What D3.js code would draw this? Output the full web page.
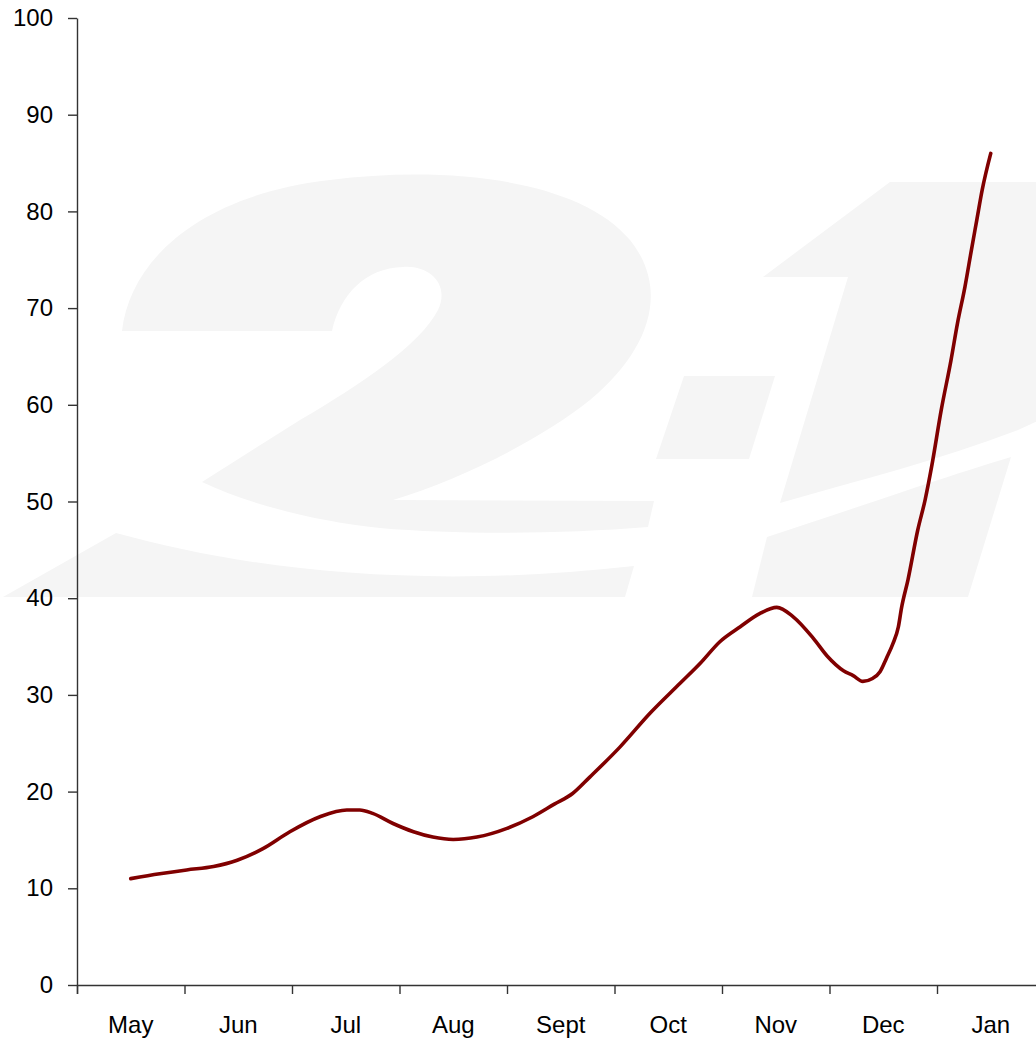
<!DOCTYPE html>
<html>
<head>
<meta charset="utf-8">
<script src="https://cdn.jsdelivr.net/npm/d3@7"></script>
<style>
  body { margin: 0; background: #fff; }
  svg { display: block; font-family: "Liberation Sans", Arial, sans-serif; }
</style>
</head>
<body>
<div id="chart"></div>
<script>
  // month labels along the bottom
  const months = ['May', 'Jun', 'Jul', 'Aug', 'Sept', 'Oct', 'Nov', 'Dec', 'Jan'];
  // position of each reading, in months since the start of May
  const monthPos = [0.5, 0.77, 1.02, 1.27, 1.49, 1.73, 1.98, 2.26, 2.51, 2.63, 2.75, 2.94, 3.13, 3.31, 3.5,
    3.72, 4.0, 4.24, 4.44, 4.61, 4.77, 5.05, 5.33, 5.61, 5.8, 5.98, 6.17, 6.35, 6.51, 6.66, 6.85, 6.98,
    7.13, 7.22, 7.31, 7.4, 7.47, 7.53, 7.59, 7.64, 7.67, 7.73, 7.82, 7.89, 7.95, 8.04, 8.13, 8.19, 8.26,
    8.32, 8.37, 8.42, 8.5];
  const values = [11.0, 11.5, 11.9, 12.25, 12.9, 14.1, 15.85, 17.4, 18.1, 18.1, 17.75, 16.7, 15.85, 15.3, 15.05,
    15.3, 16.2, 17.4, 18.7, 19.8, 21.5, 24.6, 28.1, 31.2, 33.3, 35.5, 37.05, 38.4, 39.05, 38.1, 35.85, 34.0,
    32.5, 32.0, 31.4, 31.7, 32.4, 33.8, 35.3, 37.0, 39.0, 41.9, 47.0, 50.2, 53.6, 59.5, 64.6, 68.4, 72.2,
    76.0, 79.1, 82.2, 86.0];
  const yTicks = [0, 10, 20, 30, 40, 50, 60, 70, 80, 90, 100];

  const width = 1036;
  const height = 1040;
  const marginLeft = 77;
  const plotTop = 18;
  const plotBottom = 985;
  const step = 107.5;

  const svg = d3.select('#chart')
                .append('svg')
                .attr('width', width)
                .attr('height', height);

  svg.append('rect')
     .attr('width', width)
     .attr('height', height)
     .attr('fill', '#fff');

  // faint "2:1" logo behind the plot
  const logo = svg.append('g').attr('fill', '#f5f5f5');
  logo.append('path')
      .attr('d', 'M122,331 C130,260 200,195 330,180 C450,165 580,180 630,240 C670,290 650,350 590,400 ' +
                 'C540,440 460,480 393,500 L654,501 L648,527 C560,534 460,535 380,528 C320,522 250,505 202,482 ' +
                 'L300,420 C360,385 420,345 438,310 C450,285 430,265 403,267 C365,268 340,295 332,331 Z');
  logo.append('path')
      .attr('d', 'M3,597 L116,533 C250,570 420,590 634,566 L625,597 Z');
  logo.append('path')
      .attr('d', 'M752,597 L767,537 C850,510 950,475 1011,457 L968,597 Z');
  logo.append('path')
      .attr('d', 'M684,376 L775,376 L749,459 L656,459 Z');
  logo.append('path')
      .attr('d', 'M890,182 L1040,182 L1040,420 L1018,430 C940,460 860,480 780,503 L848,277 L763,277 Z');

  const xScale = d3.scaleLinear()
                   .domain([0, months.length])
                   .range([marginLeft, marginLeft + step * months.length]);

  const xBand = d3.scaleBand()
                  .domain(months)
                  .range([marginLeft, marginLeft + step * months.length]);

  const yScale = d3.scaleLinear()
                   .domain([0, 100])
                   .range([plotBottom, plotTop]);

  svg.append('g')
     .attr('transform', 'translate(0, ' + plotBottom + ')')
     .call(d3.axisBottom(xScale)
             .tickValues(d3.range(0, months.length + 1))
             .tickFormat('')
             .tickSizeOuter(0)
             .tickSize(9));

  const xLabels = svg.append('g')
                     .attr('transform', 'translate(0, ' + plotBottom + ')')
                     .call(d3.axisBottom(xBand).tickSize(0).tickPadding(0));
  xLabels.select('.domain').remove();
  xLabels.selectAll('text')
         .attr('y', 48)
         .attr('dy', 0)
         .style('font-size', '24px')
         .attr('fill', '#000');

  const yAxis = svg.append('g')
                   .attr('transform', 'translate(' + marginLeft + ', 0)')
                   .call(d3.axisLeft(yScale)
                           .tickValues(yTicks)
                           .tickSize(9)
                           .tickSizeOuter(0)
                           .tickPadding(15));
  yAxis.selectAll('text')
       .style('font-size', '24px')
       .attr('fill', '#000');

  svg.selectAll('.domain, .tick line')
     .attr('stroke', '#333')
     .attr('stroke-width', 1.4);
  svg.selectAll('.tick text').style('font-family', '"Liberation Sans", Arial, sans-serif');

  const points = monthPos.map((m, i) => [m, values[i]]);

  const line = d3.line()
                 .x((d) => xScale(d[0]))
                 .y((d) => yScale(d[1]))
                 .curve(d3.curveMonotoneX);

  svg.append('path')
     .datum(points)
     .attr('d', line)
     .attr('fill', 'none')
     .attr('stroke', '#800000')
     .attr('stroke-width', 3.6)
     .attr('stroke-linejoin', 'round')
     .attr('stroke-linecap', 'round');
</script>
</body>
</html>
